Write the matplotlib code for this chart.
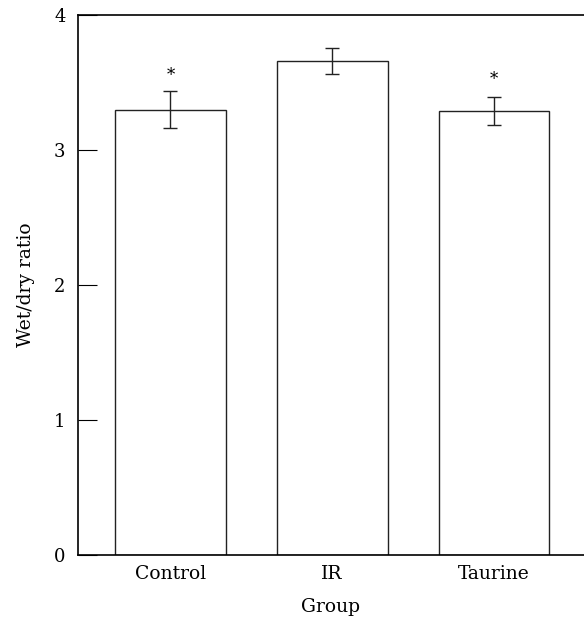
import matplotlib
matplotlib.use("Agg")
import matplotlib.pyplot as plt

categories = ["Control", "IR", "Taurine"]
means = [3.30, 3.66, 3.29]
errors = [0.14, 0.095, 0.105]
star_labels = ["*", "", "*"]
star_y = [3.55, None, 3.52]
yticks = [0, 1, 2, 3, 4]

plt.rcParams['font.family'] = ['DejaVu Serif']
fig = plt.figure(figsize=(5.84, 6.23), dpi=100)
ax = fig.add_axes([0.1336, 0.1091, 0.8664, 0.8668])

x = list(range(len(categories)))
ax.bar(x, means, width=0.685, color="white", edgecolor="#222222", linewidth=1.0)
ax.errorbar(x, means, yerr=errors, fmt="none", ecolor="#222222", elinewidth=1.0,
            capsize=5, capthick=1.0)
for xi, s, sy in zip(x, star_labels, star_y):
    if s:
        ax.text(xi, sy, s, ha="center", va="center", fontsize=12)

ax.set_xlim(-0.571, 2.556)
ax.set_ylim(0, 4)
ax.set_yticks(yticks)
ax.set_yticklabels([str(t) for t in yticks], fontsize=13)
ax.set_xticks(x)
ax.set_xticklabels(categories, fontsize=13.5)
ax.tick_params(axis="y", direction="in", length=14, width=0.8, pad=9)
ax.tick_params(axis="x", length=0, pad=7)
ax.spines["right"].set_visible(False)
for s in ["left", "top", "bottom"]:
    ax.spines[s].set_linewidth(1.2)
ax.set_ylabel("Wet/dry ratio", fontsize=13.5, labelpad=14)
ax.set_xlabel("Group", fontsize=13.5, labelpad=11)

fig.savefig("out.png", dpi=100)
